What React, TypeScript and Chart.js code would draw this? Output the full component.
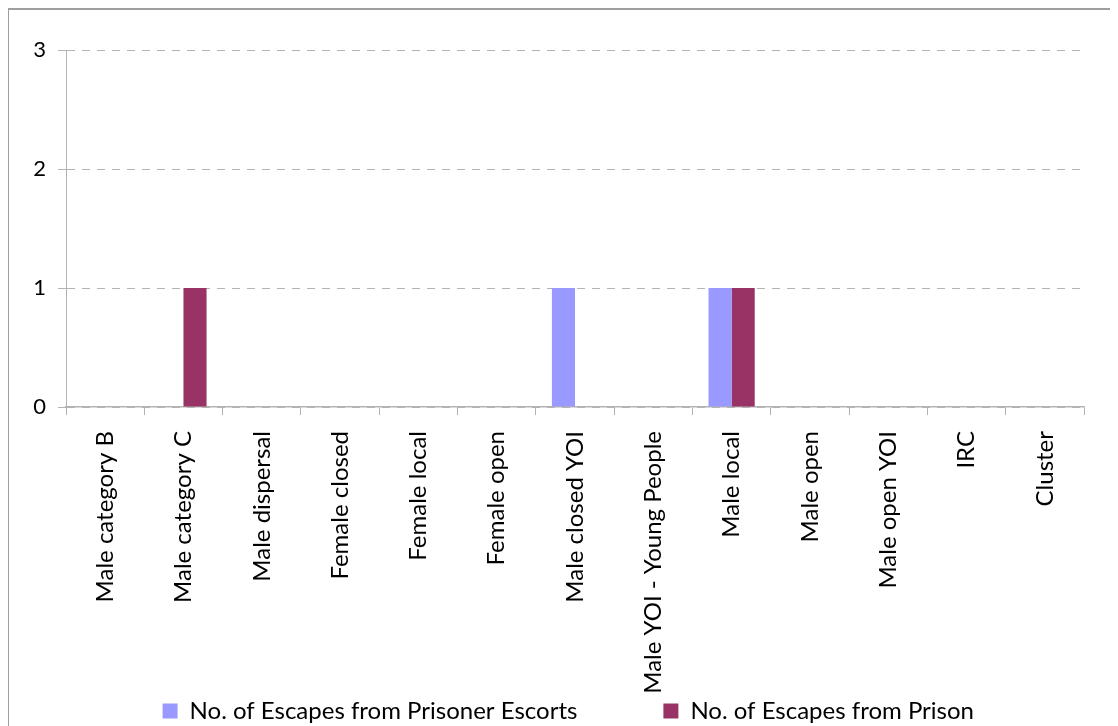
import React, { useEffect, useRef } from "react";
import { Chart, registerables } from "chart.js";

Chart.register(...registerables);

const categories = [
  "Male category B",
  "Male category C",
  "Male dispersal",
  "Female closed",
  "Female local",
  "Female open",
  "Male closed YOI",
  "Male YOI - Young People",
  "Male local",
  "Male open",
  "Male open YOI",
  "IRC",
  "Cluster",
];
const escortEscapes = [0, 0, 0, 0, 0, 0, 1, 0, 1, 0, 0, 0, 0];
const prisonEscapes = [0, 1, 0, 0, 0, 0, 0, 0, 1, 0, 0, 0, 0];
const seriesNames = ["No. of Escapes from Prisoner Escorts", "No. of Escapes from Prison"];
const seriesColors = ["#9999FF", "#993366"];

const FONT = "Lato, 'Open Sans', sans-serif";
const LEGEND_SIZE = 24;
// target widths of each legend entry's text slot (text + trailing gap)
const LEGEND_SLOTS = [475, 300];

export default function App() {
  const ref = useRef<HTMLCanvasElement>(null);
  useEffect(() => {
    if (!ref.current) return;
    const chart = new Chart(ref.current, {
      type: "bar",
      data: {
        labels: categories,
        datasets: [
          { label: seriesNames[0], data: escortEscapes, backgroundColor: seriesColors[0], yAxisID: "y" },
          { label: seriesNames[1], data: prisonEscapes, backgroundColor: seriesColors[1], yAxisID: "y" },
        ],
      },
      options: {
        animation: false,
        responsive: false,
        maintainAspectRatio: false,
        datasets: { bar: { categoryPercentage: 0.59, barPercentage: 1 } },
        layout: { padding: { top: 40, right: 0, bottom: 17, left: 0 } },
        plugins: {
          tooltip: { enabled: false },
          legend: {
            position: "bottom",
            labels: {
              boxWidth: 15,
              boxHeight: 15,
              padding: 0,
              color: "#000",
              font: { family: FONT, size: LEGEND_SIZE },
              generateLabels: (c: any) => {
                const items = Chart.defaults.plugins.legend.labels.generateLabels(c);
                const ctx = c.ctx;
                ctx.save();
                ctx.font = `${LEGEND_SIZE}px ${FONT}`;
                const sw = ctx.measureText(" ").width || 6;
                items.forEach((it: any, i: number) => {
                  const w = ctx.measureText(it.text).width;
                  const n = Math.max(0, Math.round((LEGEND_SLOTS[i] - w) / sw));
                  it.text = it.text + " ".repeat(n);
                });
                ctx.restore();
                return items;
              },
            },
          },
        },
        scales: {
          x: {
            grid: { drawOnChartArea: false, color: "#b3b3b3", tickLength: 8 },
            border: { color: "#b3b3b3", width: 1.5 },
            ticks: {
              color: "#000",
              font: { family: FONT, size: 24 },
              minRotation: 90,
              maxRotation: 90,
              autoSkip: false,
              padding: 16,
            },
            afterFit: (s: any) => {
              s.height = 292;
            },
          },
          y: {
            min: 0,
            max: 3,
            grid: { color: "#b3b3b3", tickLength: 8, tickBorderDash: [] },
            border: { color: "#b3b3b3", width: 1, dash: [8, 7] },
            ticks: {
              stepSize: 1,
              color: "#000",
              font: { family: FONT, size: 22 },
              padding: 12,
            },
            afterFit: (s: any) => {
              s.width = 57;
            },
          },
          yRightSpace: {
            position: "right",
            display: true,
            grid: { display: false, drawTicks: false },
            border: { display: false },
            ticks: { display: false },
            afterFit: (s: any) => {
              s.width = 62;
            },
          },
        },
      },
    });
    return () => chart.destroy();
  }, []);
  return (
    <div
      style={{
        width: 1110,
        height: 718,
        overflow: "hidden",
        borderTop: "2px solid #9e9e9e",
        borderLeft: "1px solid #9e9e9e",
        boxSizing: "border-box",
        background: "#fff",
      }}
    >
      <canvas ref={ref} width={1137} height={740} style={{ display: "block" }} />
    </div>
  );
}
